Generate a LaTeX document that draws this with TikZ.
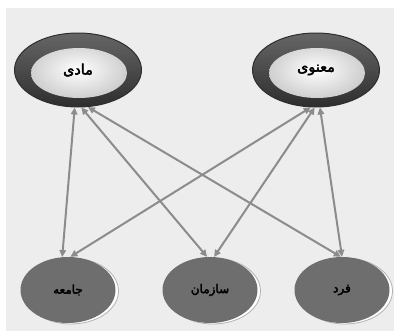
\documentclass[tikz,border=0pt]{standalone}
\usepackage{fontspec}
\newfontfamily\arabicfont[Script=Arabic,FakeBold=3]{DejaVu Sans}
\TeXXeTstate=1
\usetikzlibrary{arrows.meta,shapes.geometric,shadows}
\definecolor{bggray}{HTML}{EDEDED}
\definecolor{arrowgray}{HTML}{8C8C8C}
\definecolor{ringdark}{HTML}{2E2E2E}
\definecolor{discgray}{HTML}{6E6E6E}

\begin{document}
\begin{tikzpicture}[x=1pt,y=1pt,
  link/.style={{Triangle[length=7pt,width=6.5pt]}-{Triangle[length=7pt,width=6.5pt]},
    draw=arrowgray, line width=2pt},
  topoval/.style={ellipse, minimum width=127pt, minimum height=74pt,
    top color=gray!80!black, bottom color=ringdark, draw=ringdark, line width=1pt,
    path picture={\shade[inner color=white, outer color=gray!50]
      ([xshift=1pt,yshift=-3pt]path picture bounding box.center) ellipse (48pt and 25pt);},
    font=\arabicfont\Large},
  bottomoval/.style={ellipse, minimum width=95pt, minimum height=66pt, fill=discgray,
    copy shadow={shadow xshift=3pt, shadow yshift=-1pt, fill=white, draw=gray!60, line width=0.8pt},
    font=\arabicfont\large}]
\useasboundingbox (0,0) rectangle (398,333);
\fill[white] (0,0) rectangle (398,333);
\fill[bggray] (6,2) rectangle (394,325);

\node (madi)   at (78,263)  [topoval] {\beginR مادی\endR};
\node (manavi) at (316,263) [topoval] {\beginR معنوی\endR};
\node (jameeh) at (68,43)   [bottomoval] {\beginR جامعه\endR};
\node (sazman) at (210,43)  [bottomoval] {\beginR سازمان\endR};
\node (fard)   at (342,43)  [bottomoval] {\beginR فرد\endR};

\draw [link] (madi.-95)   -- (jameeh.100);
\draw [link] (madi.-85)   -- (sazman.95);
\draw [link] (madi.-75)   -- (fard.92);
\draw [link] (manavi.-98) -- (jameeh.86);
\draw [link] (manavi.-92) -- (sazman.83);
\draw [link] (manavi.-84) -- (fard.90);
\end{tikzpicture}
\end{document}
